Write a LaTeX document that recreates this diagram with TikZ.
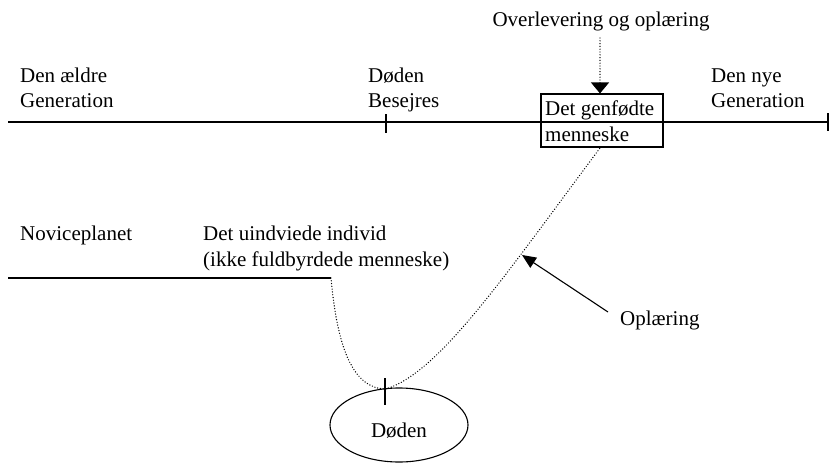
\documentclass[tikz,border=0pt]{standalone}
\usepackage{fontspec}
\setmainfont{Liberation Serif}
\usetikzlibrary{arrows.meta,shapes.geometric}
\begin{document}
\begin{tikzpicture}[x=1pt,y=-1pt,
  lbl/.style={font=\fontsize{21}{25}\selectfont, inner sep=0pt, anchor=base west},
  ln/.style={line width=1.1pt},
  dotln/.style={line width=1.4pt, line cap=round, dash pattern=on 0pt off 2.8pt},
  tip/.style={-{Triangle[length=12pt,width=16pt]}}]
\useasboundingbox (0,0) rectangle (830,463);
% top time line
\coordinate (tl) at (8,122);
\coordinate (tr) at (828,122);
\draw[ln] (tl) -- (tr);
\draw[ln] (828,113) -- (828,131);
\draw[ln] (386,114) -- (386,133);
\node[lbl] (ae1) at (20,82) {Den ældre};
\node[lbl] (ae2) at (20,107) {Generation};
\node[lbl] (db1) at (368,82) {Døden};
\node[lbl] (db2) at (368,107) {Besejres};
\node[lbl] (ny1) at (711,82) {Den nye};
\node[lbl] (ny2) at (711,107) {Generation};
% box
\node[draw, line width=1.1pt, minimum width=122pt, minimum height=53pt, inner sep=0pt] (box) at (602,120.5) {};
\node[lbl] (gf1) at (545,115) {Det genfødte};
\node[lbl] (gf2) at (545,141) {menneske};
% overlevering
\node[lbl, anchor=base] (ov) at (601,27) {Overlevering og oplæring};
\coordinate (ovs) at (600,38);
\draw[dotln] (ovs) -- (600,84);
\draw[ln, -{Triangle[length=11pt,width=18pt]}] (600,83) -- (box.north -| 600,0);
% lower line
\node[lbl] (nov) at (20,240) {Noviceplanet};
\node[lbl] (ui1) at (203,240) {Det uindviede individ};
\node[lbl] (ui2) at (203,266) {(ikke fuldbyrdede menneske)};
\coordinate (nl) at (8,278);
\coordinate (nr) at (331,278);
\draw[ln] (nl) -- (nr);
% ellipse
\node[draw, ellipse, line width=1.1pt, minimum width=138pt, minimum height=74pt, inner sep=0pt] (dod) at (399,425) {};
\node[lbl, anchor=base] (dodt) at (399,437) {Døden};
\coordinate (bot) at (386,389);
\draw[ln] (385,378) -- (385,405);
% dotted curve
\coordinate (bs) at (600,148);
\draw[dotln] (nr) .. controls (337,345) and (352,389) .. (bot)
  .. controls (440,372) and (505,275) .. (bs);
% oplaering
\node[lbl] (opl) at (620,325) {Oplæring};
\coordinate (os) at (608,312);
\coordinate (oe) at (522,255);
\draw[ln, -{Triangle[length=14pt,width=12pt]}] (os) -- (oe);
\end{tikzpicture}
\end{document}
